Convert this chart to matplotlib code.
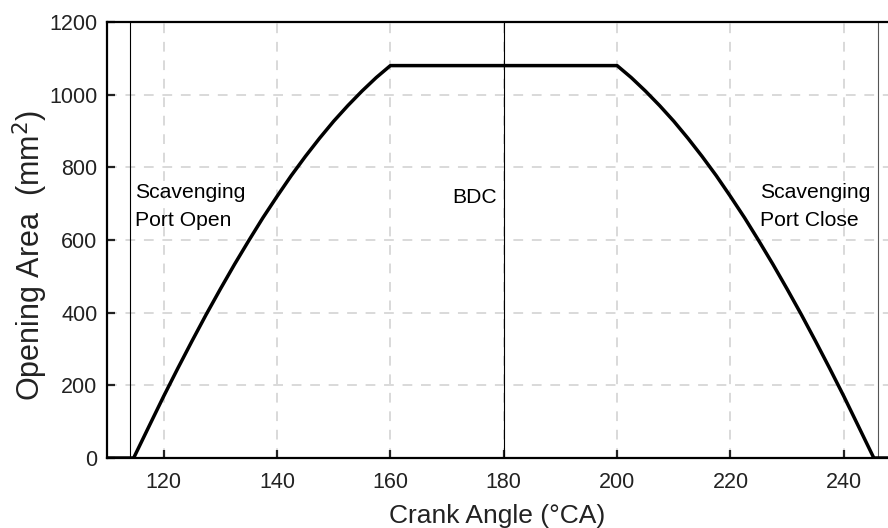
import matplotlib
matplotlib.use("Agg")
import matplotlib.pyplot as plt

# Data (opening / plateau / closing)
open_angle = [110, 114.7, 117.5, 120, 122.5, 125, 127.5, 130, 132.5, 135, 137.5,
              140, 142.5, 145, 147.5, 150, 152.5, 155, 157.5, 160]
open_area = [0, 0, 90, 170, 247, 322, 395, 465, 533, 598, 661,
             720, 777, 830, 880, 927, 970, 1010, 1047, 1080]
close_angle = [200, 202.5, 205, 207.5, 210, 212.5, 215, 217.5, 220, 222.5, 225,
               227.5, 230, 232.5, 235, 237.5, 240, 242.5, 245.3, 247.8]
close_area = [1080, 1047, 1010, 970, 927, 880, 830, 777, 720, 661, 598,
              533, 465, 395, 322, 247, 170, 90, 0, 0]
angle = open_angle + close_angle
area = open_area + close_area

event_angles = [114, 180, 246]
x_ticks = [120, 140, 160, 180, 200, 220, 240]
y_ticks = [0, 200, 400, 600, 800, 1000, 1200]

plt.rcParams['font.family'] = ['Liberation Sans', 'DejaVu Sans']

fig = plt.figure(figsize=(8.88, 5.28), dpi=100)
ax = fig.add_axes([107/888, 1 - 458/528, 1 - 107/888, (458 - 22)/528])

ax.set_xlim(110, 247.8)
ax.set_ylim(0, 1200)
ax.set_xticks(x_ticks)
ax.set_yticks(y_ticks)

ax.grid(True, color='#d9d9d9', linewidth=1.4, linestyle=(0, (5, 4.5)))
ax.set_axisbelow(True)

for a, c in zip(event_angles, ['black', 'black', '#555555']):
    ax.axvline(a, color=c, linewidth=0.8, zorder=2)

ax.plot(angle, area, color='black', linewidth=2.5, zorder=3,
        solid_joinstyle='round')

for side in ['left', 'bottom', 'top']:
    ax.spines[side].set_linewidth(1.6)
    ax.spines[side].set_color('black')
ax.spines['right'].set_visible(False)

ax.tick_params(axis='both', direction='in', length=6, width=1.6,
               labelsize=15.5, colors='#222222')
ax.tick_params(axis='x', pad=10)
ax.tick_params(axis='y', pad=7)

ax.set_xlabel('Crank Angle (°CA)', fontsize=19, color='#222222', labelpad=8)
ax.set_ylabel('Opening Area  (mm$^2$)', fontsize=22, color='#222222', labelpad=-1)
ax.yaxis.label.set_y(0.465)

ax.text(115.0, 692, 'Scavenging\nPort Open', fontsize=15.2, ha='left',
        va='center', color='black', linespacing=1.65)
ax.text(178.8, 716, 'BDC', fontsize=15.2, ha='right', va='center', color='black')
ax.text(225.2, 692, 'Scavenging\nPort Close', fontsize=15.2, ha='left',
        va='center', color='black', linespacing=1.65)

fig.savefig('out.png', dpi=100)
